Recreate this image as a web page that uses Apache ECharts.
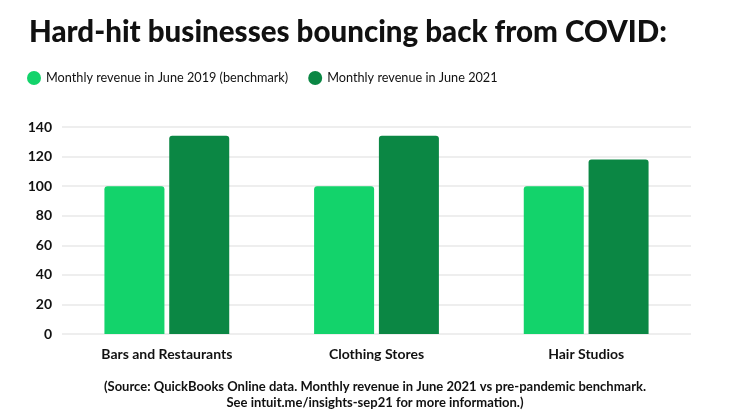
<!DOCTYPE html>
<html><head><meta charset="utf-8">
<script src="https://cdn.jsdelivr.net/npm/echarts@6/dist/echarts.min.js"></script>
<style>html,body{margin:0;padding:0;background:#fff}#c{width:733px;height:412px}</style>
</head><body><div id="c"></div>
<script>
const categories = ['Bars and Restaurants', 'Clothing Stores', 'Hair Studios'];
const seriesNames = ['Monthly revenue in June 2019 (benchmark)', 'Monthly revenue in June 2021'];
const benchmark2019 = [100, 100, 100];
const revenue2021 = [134, 134, 118];
const yTicks = [0, 20, 40, 60, 80, 100, 120, 140];

const chart = echarts.init(document.getElementById('c'));
const font = 'Lato';
chart.setOption({
  animation: false,
  title: [{
    text: 'Hard-hit businesses bouncing back from COVID:',
    left: 24, top: 12,
    textStyle: { fontFamily: font, fontWeight: 900, fontSize: 29.5, color: '#111' }
  }, {
    text: '(Source: QuickBooks Online data. Monthly revenue in June 2021 vs pre-pandemic benchmark.\nSee intuit.me/insights-sep21 for more information.)',
    left: 370, top: 374, textAlign: 'center',
    textStyle: { fontFamily: font, fontWeight: 'bold', fontSize: 13, color: '#111', lineHeight: 16, align: 'center' }
  }],
  legend: {
    left: 22, top: 66, icon: 'circle', itemWidth: 14, itemHeight: 14, itemGap: 20,
    textStyle: { fontFamily: font, fontSize: 12.7, color: '#111' },
    data: seriesNames
  },
  grid: { left: 62, right: 42, top: 127, bottom: 78 },
  xAxis: {
    type: 'category', data: categories,
    axisLine: { show: false }, axisTick: { show: false },
    axisLabel: { fontFamily: font, fontWeight: 'bold', fontSize: 14, color: '#111', margin: 13 }
  },
  yAxis: {
    type: 'value', min: yTicks[0], max: yTicks[yTicks.length - 1], interval: 20,
    axisLabel: { fontFamily: font, fontWeight: 'bold', fontSize: 14, color: '#111', margin: 10 },
    splitLine: { lineStyle: { color: '#e8e8e8', width: 1.5 } }
  },
  series: [{
    name: seriesNames[0], type: 'bar', data: benchmark2019, barWidth: 60, barGap: '8%',
    itemStyle: { color: '#13d36b', borderRadius: [3, 3, 0, 0] }
  }, {
    name: seriesNames[1], type: 'bar', data: revenue2021, barWidth: 60,
    itemStyle: { color: '#0b8744', borderRadius: [3, 3, 0, 0] }
  }]
});
</script></body></html>
